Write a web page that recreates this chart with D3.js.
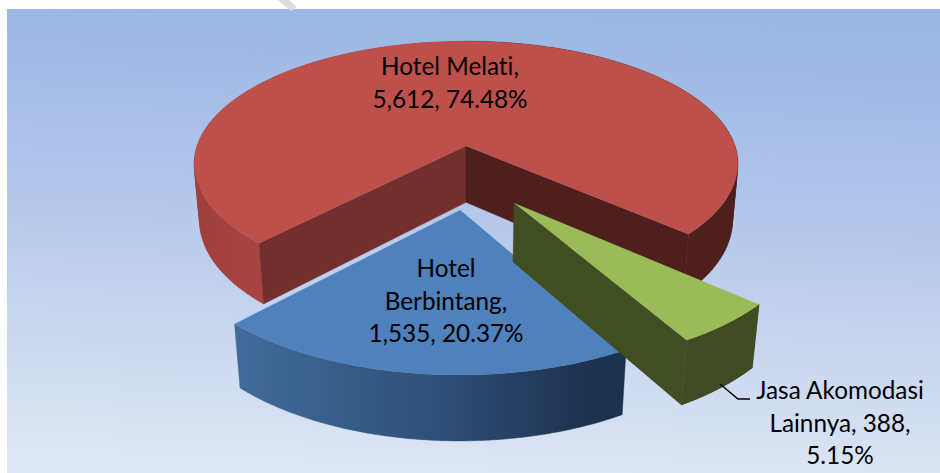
<!DOCTYPE html>
<html><head><meta charset="utf-8">
<script src="https://cdn.jsdelivr.net/npm/d3@7/dist/d3.min.js"></script>
<style>html,body{margin:0;padding:0;background:#fff;overflow:hidden}svg{display:block}</style>
</head><body><svg id="c" width="940" height="473"></svg>
<script>
// Data
const categories = ["Hotel Melati", "Jasa Akomodasi Lainnya", "Hotel Berbintang"];
const values = [5612, 388, 1535];
const labelNameLines = [["Hotel Melati,"], ["Jasa Akomodasi", "Lainnya,"], ["Hotel", "Berbintang,"]];
const topColors = ["#BE504C", "#9BBB59", "#4F81BD"];

const svg = d3.select("#c");
const W = 940, H = 473;
const rad = d => d * Math.PI / 180;

// Perspective projection of the pie plane
const cx = 466, cy = 146, A = 120, B = 269, P = 0.145, D = 57.5, Q = 0.02;
const proj = (X, Y, z) => {
  const w = 1 - P * Y + Q * z;
  return [cx + B * X / w, cy + (A * Y + D * z) / w];
};
const offsets = [[0, 0], [0.167, 0.444], [-0.02, 0.495]];

const pie = d3.pie().sort(null).startAngle(rad(223.5)).endAngle(rad(223.5) + 2 * Math.PI);
const arcs = pie(values);
const line = d3.line();

const pt = (i, r, ang, z) => {
  const o = offsets[i];
  return proj(o[0] + r * Math.sin(ang), o[1] - r * Math.cos(ang), z);
};
const arcPts = (i, a0, a1, z) => d3.range(0, 161).map(k => pt(i, 1, a0 + (a1 - a0) * k / 160, z));

// Gradients
const defs = svg.append("defs");
const grad = (id, x1, y1, x2, y2, stops) => {
  const g = defs.append("linearGradient").attr("id", id).attr("gradientUnits", "userSpaceOnUse")
    .attr("x1", x1).attr("y1", y1).attr("x2", x2).attr("y2", y2);
  stops.forEach(s => g.append("stop").attr("offset", s[0]).attr("stop-color", s[1]));
};
grad("bg", 490, 9, 470, 473, [[0, "#9AB6E3"], [0.35, "#AEC3EA"], [0.65, "#C4D3EE"], [1, "#DDE6F4"]]);
grad("redWall", 194, 0, 737, 0, [[0, "#9E3F3C"], [0.14, "#AB4541"], [0.5, "#AB4541"], [0.5, "#4E1F1D"], [1, "#4E1F1D"]]);
grad("blueWall", 234, 0, 627, 0, [[0, "#426B9C"], [0.5, "#2F5079"], [0.9, "#1D324F"], [1, "#1D324F"]]);

svg.append("rect").attr("x", 7).attr("y", 9).attr("width", W - 7).attr("height", H - 9).attr("fill", "url(#bg)");

// Watermark fragment at the top edge
svg.append("path").attr("d", "M278,0L291,11L297,7L289,0Z").attr("fill", "#DDDDDD");

const wallFill = ["url(#redWall)", "#414D23", "url(#blueWall)"];
const radialFill = [["#722F2D", "#4E1F1D"], ["#414D23", "#414D23"], ["#2F5079", "#2F5079"]];

const outerWall = (g, i, top, bottom) => {
  // Strip of quads so that the silhouette sweeps between the two rims
  const d = d3.range(top.length - 1).map(k => {
    const q = [top[k], top[k + 1], bottom[k + 1], bottom[k]];
    if (d3.polygonArea(q) < 0) q.reverse();
    return line(q) + "Z";
  }).join("");
  g.append("path").attr("d", d).attr("fill", wallFill[i]).attr("stroke", wallFill[i]).attr("stroke-width", 0.4);
};
const radialWalls = (g, i, a) => {
  const c0 = pt(i, 0, 0, 0), c1 = pt(i, 0, 0, 1);
  [[a.startAngle, 1, 0], [a.endAngle, -1, 1]].forEach(([ang, sign, k]) => {
    const q = [c0, pt(i, 1, ang, 0), pt(i, 1, ang, 1), c1];
    if (d3.polygonArea(q) * sign > 0) {
      g.append("path").attr("d", line(q) + "Z").attr("fill", radialFill[i][k])
        .attr("stroke", radialFill[i][k]).attr("stroke-width", 0.4);
    }
  });
};

// Slices painted back to front: red, blue, green
[0, 2, 1].forEach(i => {
  const a = arcs[i];
  const g = svg.append("g");
  const top = arcPts(i, a.startAngle, a.endAngle, 0);
  const bottom = arcPts(i, a.startAngle, a.endAngle, 1);
  outerWall(g, i, top, bottom);
  radialWalls(g, i, a);
  g.append("path").attr("d", line([pt(i, 0, 0, 0)].concat(top)) + "Z").attr("fill", topColors[i]);
});

// Labels
const total = d3.sum(values);
const fmt = d3.format(",");
const pctOf = v => (v / total * 100).toFixed(2) + "%";
const labelLines = [
  [labelNameLines[0][0], `${fmt(values[0])}, ${pctOf(values[0])}`],
  [labelNameLines[1][0], `${labelNameLines[1][1]} ${fmt(values[1])},`, pctOf(values[1])],
  [labelNameLines[2][0], labelNameLines[2][1], `${fmt(values[2])}, ${pctOf(values[2])}`]
];
const labelPos = [[450, 75], [840, 399], [446, 277]];
labelLines.forEach((ls, i) => {
  const t = svg.append("text").attr("text-anchor", "middle")
    .attr("font-family", "Lato, 'Open Sans', sans-serif").attr("font-size", 24.3)
    .style("font-variant-ligatures", "none").attr("fill", "#000");
  ls.forEach((s, k) => t.append("tspan").attr("x", labelPos[i][0]).attr("y", labelPos[i][1] + k * 32.6).text(s));
});

// Leader line
svg.append("path").attr("d", line([[720, 384], [738, 399], [750, 399]]))
  .attr("fill", "none").attr("stroke", "#000").attr("stroke-width", 1.5);
</script></body></html>
